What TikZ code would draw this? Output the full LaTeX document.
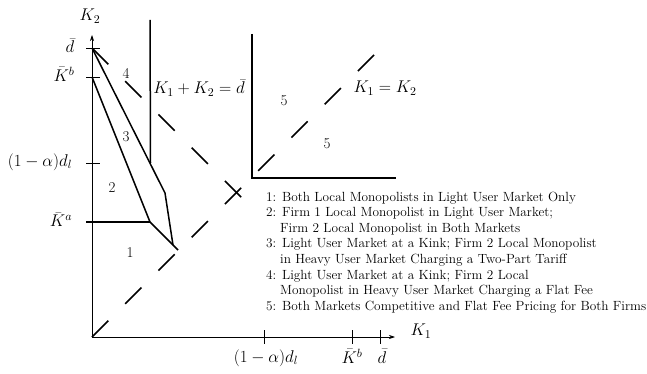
\documentclass[tikz,border=0pt]{standalone}
\usepackage{fix-cm}
\usetikzlibrary{arrows.meta}
\begin{document}
\begin{tikzpicture}[x=1pt,y=-1pt,
  axis/.style={line width=0.7pt, -{Stealth[length=6pt,width=4pt]}},
  tickline/.style={line width=0.7pt},
  bound/.style={line width=1.5pt},
  dashline/.style={line width=1.5pt, dash pattern=on 23pt off 24pt},
  lab/.style={font=\fontsize{17}{20}\selectfont, inner sep=0pt},
  reg/.style={font=\fontsize{15}{18}\selectfont, inner sep=0pt},
  leg/.style={font=\fontsize{13.3}{15}\selectfont, inner sep=0pt, anchor=base west}]
\useasboundingbox (0,0) rectangle (647,374);
% axes
\coordinate (O) at (92,337);
\coordinate (Ytip) at (92,35);
\coordinate (Xtip) at (395,337);
\draw[axis] (O) -- (Ytip);
\draw[axis] (O) -- (Xtip);
% y ticks
\coordinate (yd) at (92,48);
\coordinate (yKb) at (92,77);
\coordinate (yal) at (92,163);
\coordinate (yKa) at (92,222);
\foreach \c in {yd,yKb,yal} \draw[tickline] ([xshift=-6pt]\c) -- ([xshift=8pt]\c);
% x ticks
\coordinate (xal) at (264,337);
\coordinate (xKb) at (352,337);
\coordinate (xd) at (380,337);
\foreach \c in {xal,xKb,xd} \draw[tickline] ([yshift=7pt]\c) -- ([yshift=-7pt]\c);
% axis labels
\node[lab] (K2) at (90,16) {$K_2$};
\node[lab] (K1) at (421,331) {$K_1$};
\node[lab] (ld) at (70,46) {$\bar d$};
\node[lab] (lKb) at (64,74) {$\bar K^b$};
\node[lab] (lal) at (40,162) {$(1-\alpha)d_l$};
\node[lab] (lKa) at (61,220) {$\bar K^a$};
\node[lab] (xlal) at (266,358) {$(1-\alpha)d_l$};
\node[lab] (xlKb) at (352,356) {$\bar K^b$};
\node[lab] (xld) at (382,356) {$\bar d$};
% region boundaries
\coordinate (P1) at (165,193);
\coordinate (P2) at (173,245);
\coordinate (Q1) at (150,222);
\coordinate (Q2) at (178,250);
\coordinate (Ka0) at (86,222);
\coordinate (Vt) at (150,20);
\coordinate (Vb) at (150.5,163);
\draw[bound] (yd) -- (P1) -- (P2);
\draw[bound] (yKb) -- (Q1) -- (Q2);
\draw[bound] (Ka0) -- (Q1);
\draw[bound] (Vt) -- (Vb);
% inset corner
\coordinate (It) at (252,34);
\coordinate (Ic) at (252,178);
\coordinate (Ir) at (396,178);
\draw[bound] (It) -- (Ic) -- (Ir);
% dashed lines
\coordinate (Aend) at (243,199);
\coordinate (Dend) at (374,55);
\draw[dashline] (yd) -- (Aend);
\draw[dashline] (O) -- (Dend);
% line labels
\node[lab] (sumlab) at (199,88) {$K_1+K_2=\bar d$};
\node[lab] (eqlab) at (385,88) {$K_1=K_2$};
% region numbers
\node[reg] (r4) at (126,73) {4};
\node[reg] (r3) at (126,137) {3};
\node[reg] (r2) at (112,188) {2};
\node[reg] (r1) at (130,253) {1};
\node[reg] (r5a) at (284,101) {5};
\node[reg] (r5b) at (327,144) {5};
% legend
\node[leg] (l1) at (266,201) {1: Both Local Monopolists in Light User Market Only};
\node[leg] (l2) at (266,216.6) {2: Firm 1 Local Monopolist in Light User Market;};
\node[leg] (l2b) at (280,232.2) {Firm 2 Local Monopolist in Both Markets};
\node[leg] (l3) at (266,247.8) {3: Light User Market at a Kink; Firm 2 Local Monopolist};
\node[leg] (l3b) at (280,263.4) {in Heavy User Market Charging a Two-Part Tariff};
\node[leg] (l4) at (266,279) {4: Light User Market at a Kink; Firm 2 Local};
\node[leg] (l4b) at (280,294.6) {Monopolist in Heavy User Market Charging a Flat Fee};
\node[leg] (l5) at (266,310.2) {5: Both Markets Competitive and Flat Fee Pricing for Both Firms};
\end{tikzpicture}
\end{document}
